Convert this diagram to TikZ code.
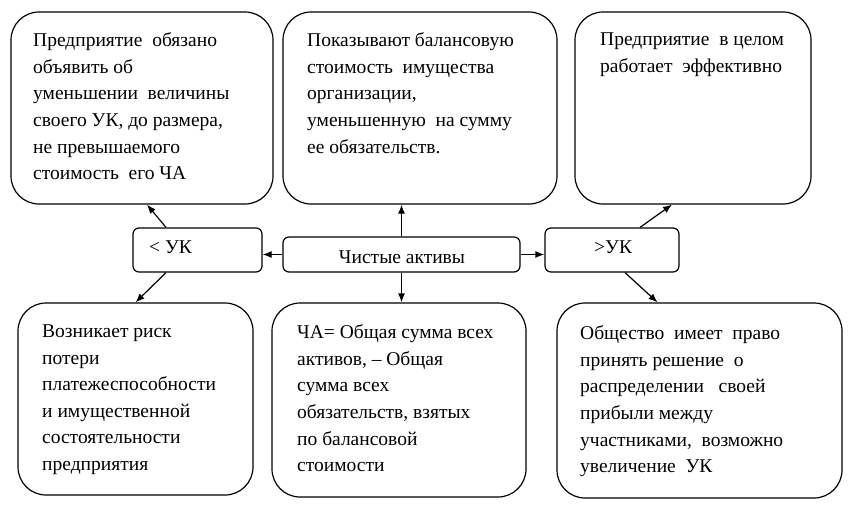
\documentclass[tikz,border=0pt]{standalone}
\usepackage{fontspec}
\setmainfont{Liberation Serif}
\usetikzlibrary{arrows.meta}
\tikzset{
  bigbox/.style={draw=black, line width=1.2pt, fill=white, rounded corners=28pt, inner sep=0pt},
  smallbox/.style={draw=black, line width=1.2pt, fill=white, rounded corners=6pt, inner sep=0pt},
  txt/.style={anchor=north west, inner sep=0pt, align=left, font=\fontsize{19.5}{26.6}\selectfont, text=black},
  lbl/.style={inner sep=0pt, font=\fontsize{19.5}{22}\selectfont, text=black},
  arr/.style={line width=1.2pt, -{Latex[length=9pt,width=7pt]}}
}
\begin{document}
\begin{tikzpicture}[x=1pt,y=-1pt]
\useasboundingbox (0,0) rectangle (848,514);
\fill[white] (0,0) rectangle (848,514);
% boxes
\node[bigbox, minimum width=262pt, minimum height=192pt] (tl) at (142,108) {};
\node[bigbox, minimum width=274pt, minimum height=192pt] (tm) at (420,108) {};
\node[bigbox, minimum width=236pt, minimum height=192pt] (tr) at (693,108) {};
\node[smallbox, minimum width=129pt, minimum height=44pt] (lt) at (197.5,250) {};
\node[smallbox, minimum width=237pt, minimum height=35pt] (ca) at (401.5,254.5) {};
\node[smallbox, minimum width=134pt, minimum height=44pt] (gt) at (612,250) {};
\node[bigbox, minimum width=235pt, minimum height=192pt] (bl) at (135.5,399) {};
\node[bigbox, minimum width=254pt, minimum height=194pt] (bm) at (399,400) {};
\node[bigbox, minimum width=285pt, minimum height=195pt] (br) at (699.5,400.5) {};
% labels in small boxes
\node[lbl, anchor=base west] (ltt) at (149,253.5) {< УК};
\node[lbl, anchor=base west] (gtt) at (594,253.5) {>УК};
\node[lbl] (cat) at (402,257) {Чистые активы};
% texts
\node[txt] (tlt) at (33,32.5) {Предприятие\ \ обязано\\объявить об\\уменьшении\ \ величины\\своего УК, до размера,\\не превышаемого\\стоимость\ \ его ЧА};
\node[txt] (tmt) at (307,32.5) {Показывают балансовую\\стоимость\ \ имущества\\организации,\\уменьшенную\ \ на сумму\\ее обязательств.};
\node[txt] (trt) at (600,32.5) {Предприятие\ \ в целом\\работает\ \ эффективно};
\node[txt] (blt) at (42,324.5) {Возникает риск\\потери\\платежеспособности\\и имущественной\\состоятельности\\предприятия};
\node[txt] (bmt) at (297,324.5) {ЧА= Общая сумма всех\\активов, -- Общая\\сумма всех\\обязательств, взятых\\по балансовой\\стоимости};
\node[txt] (brt) at (580,325.5) {Общество\ \ имеет\ \ право\\принять решение\ \ о\\распределении\ \ \ своей\\прибыли между\\участниками,\ \ возможно\\увеличение\ \ УК};
% connectors
\draw[arr] ([xshift=-31.5pt]lt.north) -- ([xshift=5pt]tl.south);
\draw[arr] (ca.north) -- (ca.north |- tm.south);
\draw[arr] ([xshift=28pt]gt.north) -- ([xshift=-21pt]tr.south);
\draw[arr] (ca.west) -- (ca.west -| lt.east);
\draw[arr] (ca.east) -- (ca.east -| gt.west);
\draw[arr] ([xshift=-31.5pt]lt.south) -- ([xshift=0pt]bl.north);
\draw[arr] (ca.south) -- (ca.south |- bm.north);
\draw[arr] ([xshift=13pt]gt.south) -- ([xshift=-42pt]br.north);
\end{tikzpicture}
\end{document}
